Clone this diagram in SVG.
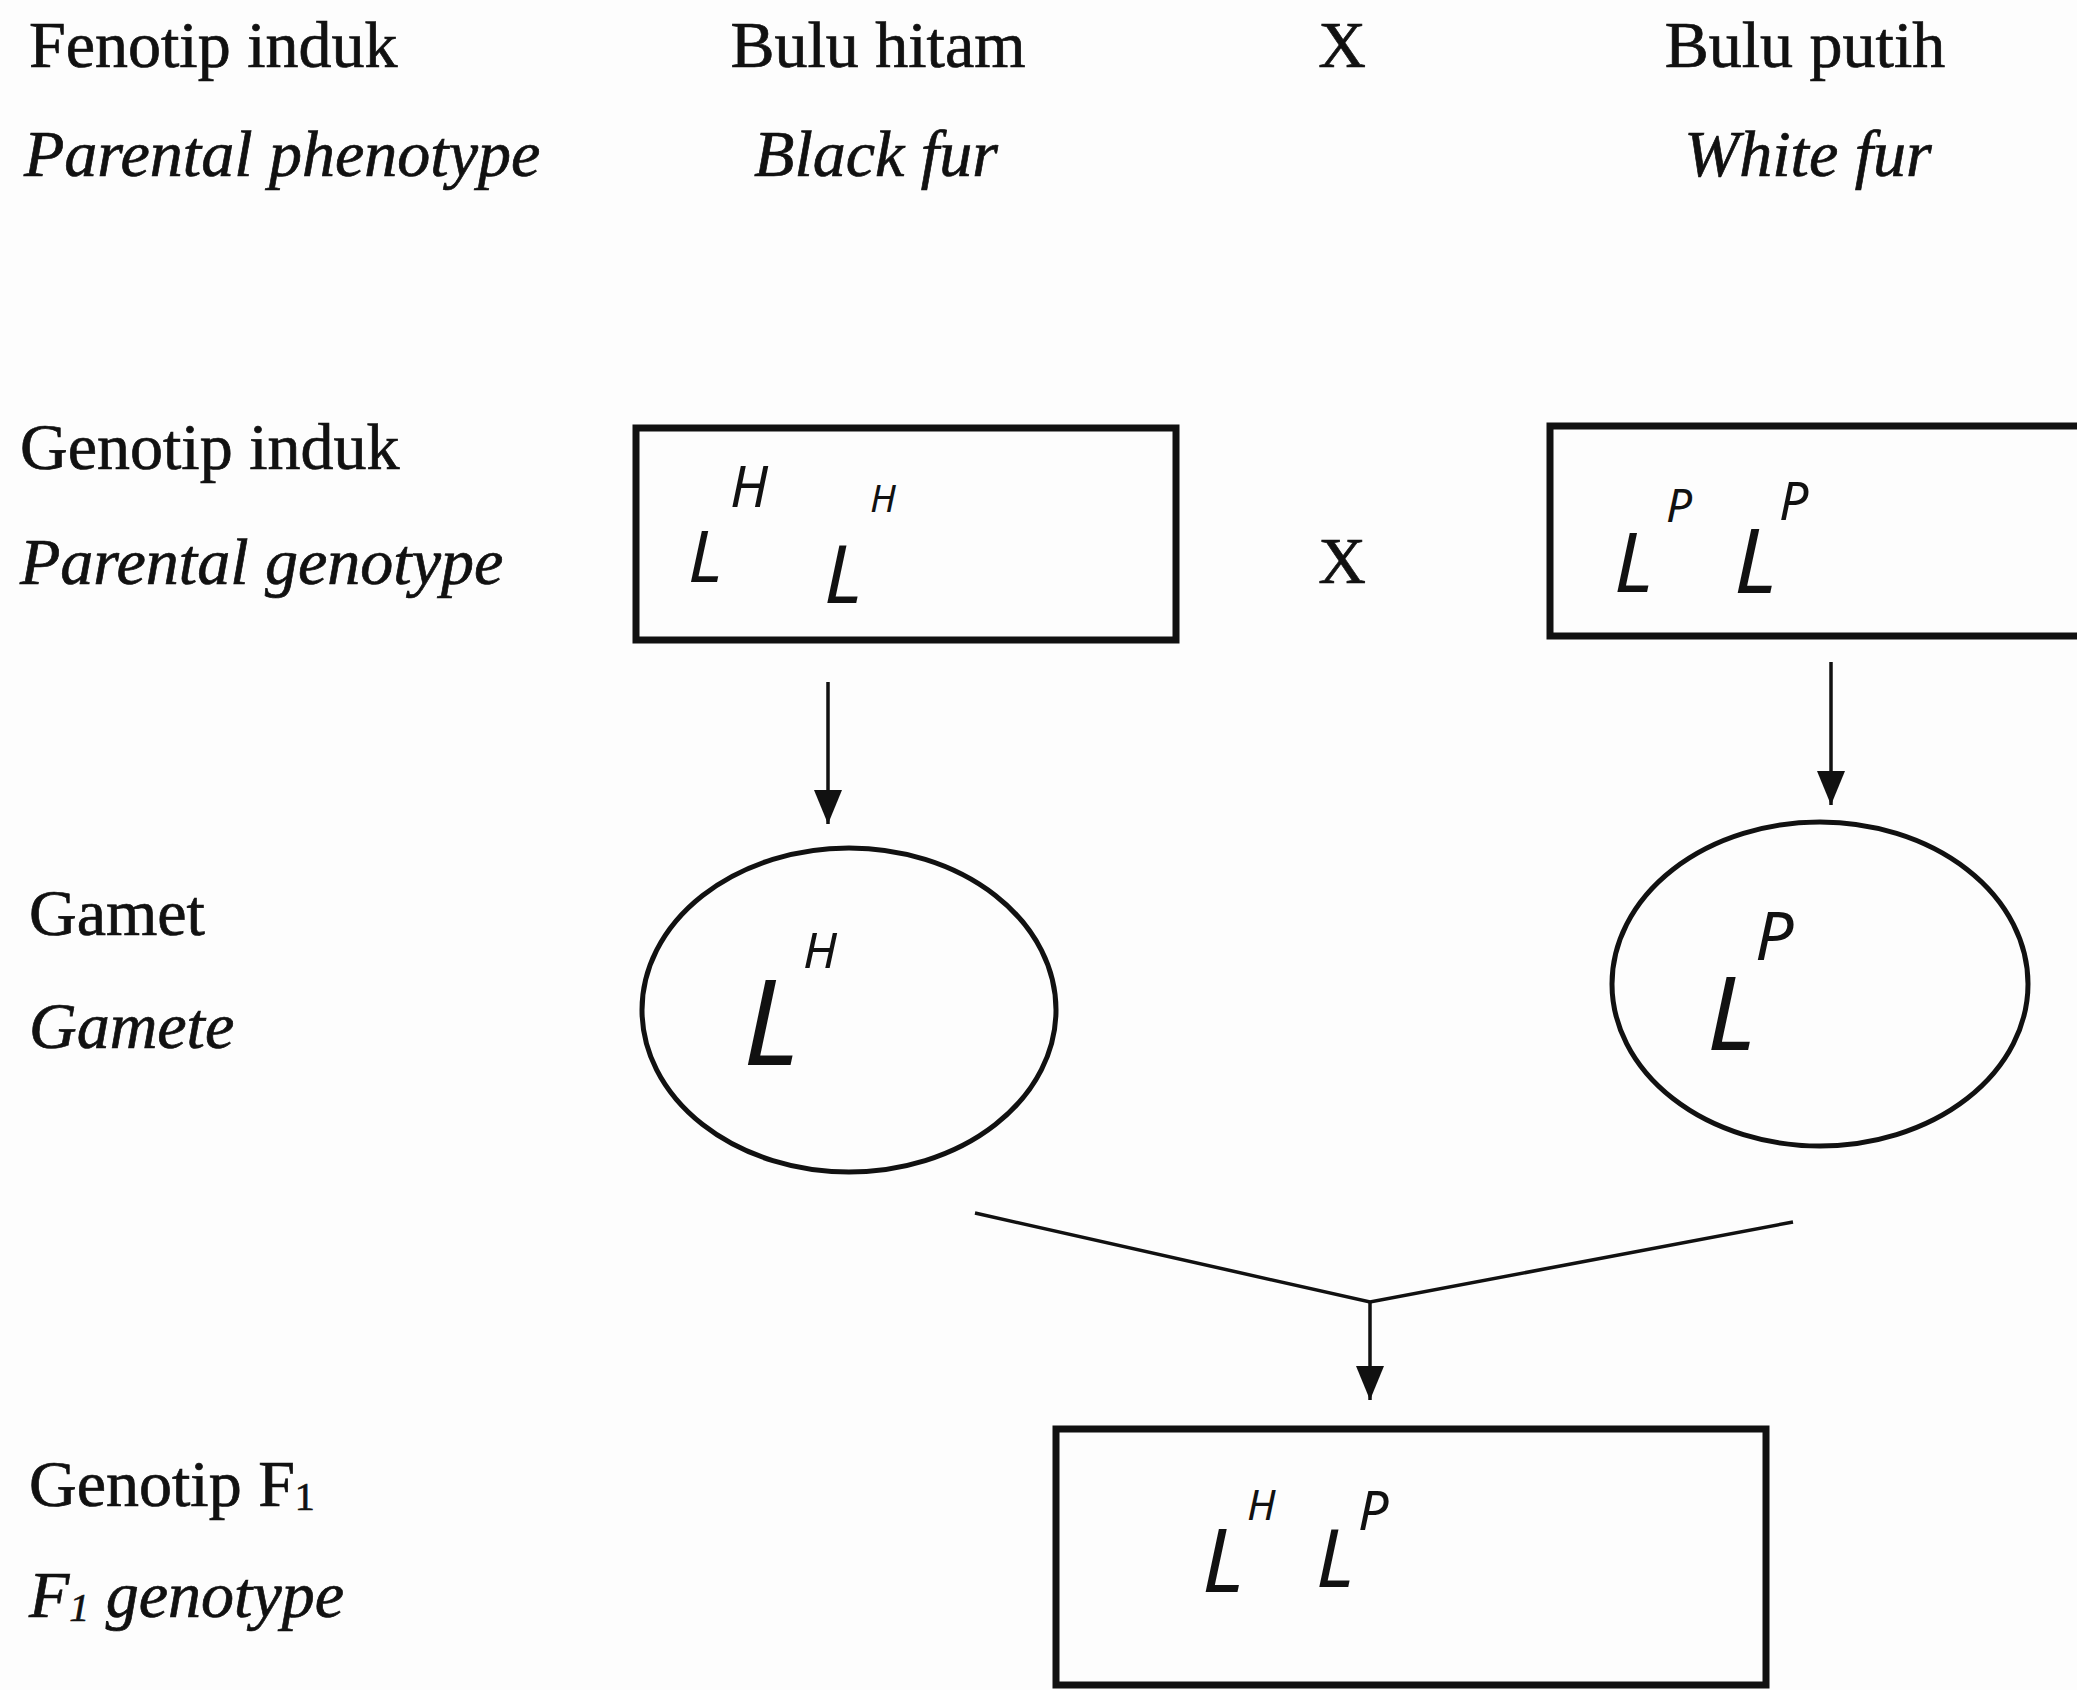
<svg xmlns="http://www.w3.org/2000/svg" width="2077" height="1690" viewBox="0 0 2077 1690">
<style>
  .lbl { font-family: "Liberation Serif", "Times New Roman", serif; font-size: 66px; fill: #111; stroke: #111; stroke-width: 0.7; }
  .it { font-style: italic; }
  .mid { text-anchor: middle; }
  .box { fill: none; stroke: #111; stroke-width: 7; }
  .gam { fill: none; stroke: #111; stroke-width: 5; }
  .hw { font-family: "Noto Sans", "DejaVu Sans", sans-serif; font-style: italic; fill: #111; }
  .con { fill: none; stroke: #111; stroke-width: 3.5; }
</style>
<defs>
  <marker id="ah" viewBox="0 0 34 28" markerWidth="34" markerHeight="28" refX="34" refY="14" orient="auto" markerUnits="userSpaceOnUse">
    <path d="M0,0 L34,14 L0,28 z" fill="#111"/>
  </marker>
</defs>
<rect x="0" y="0" width="2077" height="1690" fill="#fdfdfd"/>

<g id="row-labels">
  <text class="lbl" x="29" y="67">Fenotip induk</text>
  <text class="lbl it" x="24" y="176">Parental phenotype</text>
  <text class="lbl" x="20" y="469">Genotip induk</text>
  <text class="lbl it" x="20" y="584">Parental genotype</text>
  <text class="lbl" x="29" y="935">Gamet</text>
  <text class="lbl it" x="29" y="1048">Gamete</text>
  <text class="lbl" x="29" y="1506">Genotip F<tspan font-size="40" dy="4">1</tspan></text>
  <text class="lbl it" x="29" y="1617">F<tspan font-size="40" dy="4">1</tspan><tspan dy="-4"> genotype</tspan></text>
</g>

<g id="phenotype-black">
  <text class="lbl mid" x="878" y="67">Bulu hitam</text>
  <text class="lbl it mid" x="876" y="176">Black fur</text>
</g>
<g id="cross-phenotype">
  <text class="lbl mid" x="1342" y="67">X</text>
</g>
<g id="phenotype-white">
  <text class="lbl mid" x="1805" y="67">Bulu putih</text>
  <text class="lbl it mid" x="1808" y="176">White fur</text>
</g>

<g id="genotype-black">
  <rect class="box" x="636" y="428" width="540" height="212"/>
  <text class="hw" x="688" y="582" font-size="72">L</text>
  <text class="hw" x="730" y="507" font-size="56">H</text>
  <text class="hw" x="824" y="603" font-size="80">L</text>
  <text class="hw" x="870" y="512" font-size="38">H</text>
</g>
<g id="cross-genotype">
  <text class="lbl mid" x="1342" y="583">X</text>
</g>
<g id="genotype-white">
  <rect class="box" x="1550" y="426" width="560" height="210"/>
  <text class="hw" x="1614" y="592" font-size="82">L</text>
  <text class="hw" x="1666" y="522" font-size="46">P</text>
  <text class="hw" x="1734" y="593" font-size="90">L</text>
  <text class="hw" x="1779" y="520" font-size="52">P</text>
</g>

<g id="gamete-black">
  <ellipse class="gam" cx="849" cy="1010" rx="207" ry="162"/>
  <text class="hw" x="743" y="1065" font-size="118">L</text>
  <text class="hw" x="803" y="968" font-size="50">H</text>
</g>
<g id="gamete-white">
  <ellipse class="gam" cx="1820" cy="984" rx="208" ry="162"/>
  <text class="hw" x="1707" y="1050" font-size="102">L</text>
  <text class="hw" x="1755" y="960" font-size="68">P</text>
</g>

<g id="f1-genotype">
  <rect class="box" x="1056" y="1429" width="710" height="256"/>
  <text class="hw" x="1202" y="1592" font-size="88">L</text>
  <text class="hw" x="1247" y="1520" font-size="42">H</text>
  <text class="hw" x="1316" y="1587" font-size="80">L</text>
  <text class="hw" x="1358" y="1530" font-size="54">P</text>
</g>

<g id="connectors">
  <line class="con" x1="828" y1="682" x2="828" y2="824" marker-end="url(#ah)"/>
  <line class="con" x1="1831" y1="662" x2="1831" y2="805" marker-end="url(#ah)"/>
  <polyline class="con" points="975,1213 1370,1302 1793,1222"/>
  <line class="con" x1="1370" y1="1302" x2="1370" y2="1400" marker-end="url(#ah)"/>
</g>
</svg>
